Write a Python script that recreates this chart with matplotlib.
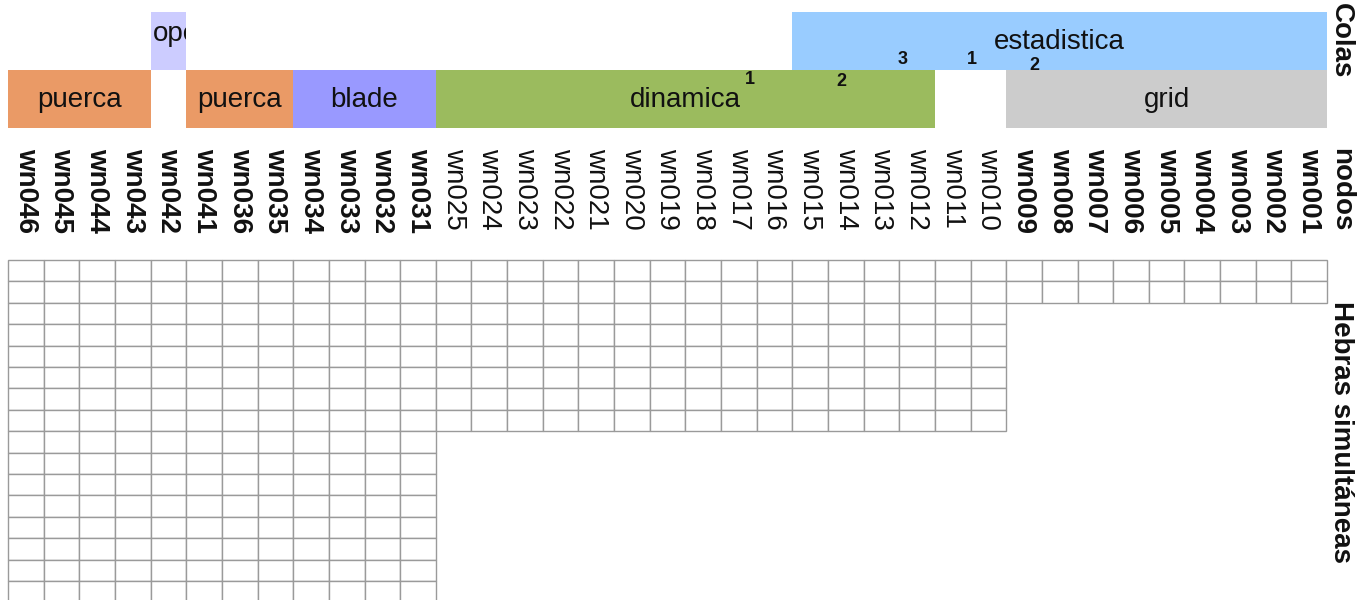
import matplotlib
matplotlib.use("Agg")
import matplotlib.pyplot as plt
from matplotlib.patches import Rectangle
from matplotlib.transforms import Bbox, TransformedBbox

plt.rcParams['font.family'] = ['Liberation Sans', 'DejaVu Sans']

# ---- data ----
nodes = ['wn046', 'wn045', 'wn044', 'wn043', 'wn042', 'wn041', 'wn036', 'wn035',
         'wn034', 'wn033', 'wn032', 'wn031',
         'wn025', 'wn024', 'wn023', 'wn022', 'wn021', 'wn020', 'wn019', 'wn018',
         'wn017', 'wn016', 'wn015', 'wn014', 'wn013', 'wn012', 'wn011', 'wn010',
         'wn009', 'wn008', 'wn007', 'wn006', 'wn005', 'wn004', 'wn003', 'wn002', 'wn001']
bold_nodes = [True] * 12 + [False] * 16 + [True] * 9
threads = [16] * 12 + [8] * 16 + [2] * 9

queue_names = ['opera', 'estadistica', 'puerca', 'puerca', 'blade', 'dinamica', 'grid']
queue_first = ['wn042', 'wn015', 'wn046', 'wn041', 'wn034', 'wn025', 'wn009']
queue_last = ['wn042', 'wn001', 'wn043', 'wn035', 'wn031', 'wn012', 'wn001']
queue_level = [0, 0, 1, 1, 1, 1, 1]
queue_colors = ['#CCCCFF', '#99CCFF', '#EA9A66', '#EA9A66', '#9999FF', '#9BBB5E', '#CCCCCC']

marks = ['1', '2', '3', '1', '2']
marks_x = [20.81, 23.39, 25.1, 27.04, 28.8]
marks_y = [80, 82, 60, 60, 65]

# ---- layout ----
W, H = 1370, 600
col_w = 35.65
x_left = 8
fig = plt.figure(figsize=(W / 100, H / 100), dpi=100)
ax = fig.add_axes([0, 0, 1, 1])
ax.set_xlim(-x_left / col_w, (W - x_left) / col_w)
ax.set_ylim(H, 0)
ax.axis('off')

level_top = [12, 70]
level_h = 57.5
grid_top = 260
row_h = 21.4
txt = '#111111'
fs = 20

# queue bars
for name, a, b, lev, c in zip(queue_names, queue_first, queue_last, queue_level, queue_colors):
    i0 = nodes.index(a)
    i1 = nodes.index(b) + 1
    y0 = level_top[lev]
    r = Rectangle((i0, y0), i1 - i0, level_h, facecolor=c, edgecolor='none')
    ax.add_patch(r)
    if i1 - i0 == 1:
        t = ax.text(i0 + 0.06, y0 + 22, name, ha='left', va='center',
                    fontsize=fs, color=txt)
        t.set_clip_on(True)
        t.set_clip_box(TransformedBbox(Bbox([[i0, y0], [i1, y0 + level_h]]), ax.transData))
    else:
        ax.text((i0 + i1) / 2, y0 + level_h / 2 + 1, name, ha='center', va='center',
                fontsize=fs, color=txt)

for m, mx, my in zip(marks, marks_x, marks_y):
    ax.text(mx, my, m, ha='center', va='center', fontsize=13,
            fontweight='bold', color=txt)

# node labels
for i, (n, b) in enumerate(zip(nodes, bold_nodes)):
    ax.text(i + 0.5, 148, n, rotation=270, ha='center', va='top', fontsize=fs,
            fontweight='bold' if b else 'normal', color=txt)

# grid cells
for i, k in enumerate(threads):
    for j in range(k):
        ax.add_patch(Rectangle((i, grid_top + j * row_h), 1, row_h,
                               facecolor='white', edgecolor='#9a9a9a', linewidth=1.0))

xr = (1341 - x_left) / col_w
ax.text(xr, 3, 'Colas', rotation=270, ha='center', va='top', fontsize=fs,
        fontweight='bold', color=txt)
ax.text(xr, 148, 'nodos', rotation=270, ha='center', va='top', fontsize=fs,
        fontweight='bold', color=txt)
ax.text(xr, 432, 'Hebras simultáneas', rotation=270, ha='center', va='center',
        fontsize=fs, fontweight='bold', color=txt)

fig.savefig('out.png', dpi=100)
